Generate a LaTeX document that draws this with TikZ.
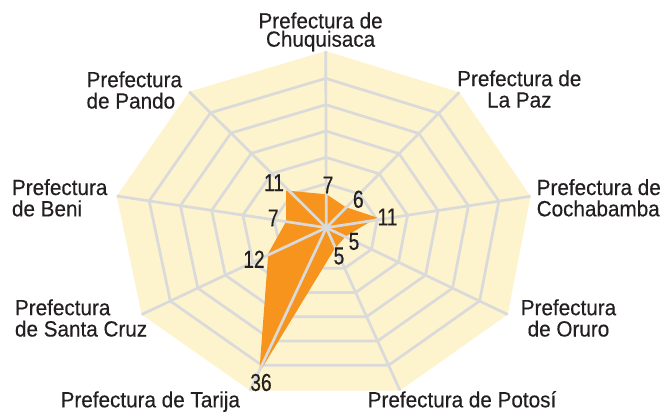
\documentclass[tikz,border=0pt]{standalone}
\usepackage{fontspec}
\setmainfont{Liberation Sans}
\newfontfamily\labfont{Liberation Sans}[FakeStretch=0.94,FakeBold=0.35]
\newfontfamily\numfont{Liberation Sans}[FakeStretch=0.78,FakeBold=0.35]
\usetikzlibrary{calc}
\definecolor{chartbg}{RGB}{253,243,205}
\definecolor{gridgray}{RGB}{218,218,218}
\definecolor{dataorange}{RGB}{247,148,30}
\definecolor{inktext}{RGB}{35,31,32}
\tikzset{
  bgpoly/.style={fill=chartbg},
  ring/.style={draw=gridgray, line width=2.7pt, line join=miter},
  spoke/.style={draw=gridgray, line width=2.7pt},
  datapoly/.style={fill=dataorange},
  axislabel/.style={inner sep=0pt, text=inktext, font=\labfont\fontsize{22}{21.3}\selectfont},
  vallabel/.style={inner sep=0pt, text=inktext, font=\numfont\fontsize{24.5}{24.5}\selectfont},
}
\begin{document}
\begin{tikzpicture}[x=1pt,y=-1pt]
\useasboundingbox (0,0) rectangle (661,412);
% centre and outer vertices
\coordinate (C) at (326.3,227.7);
\coordinate (V0) at (325.7,51);
\coordinate (V1) at (459.3,92.3);
\coordinate (V2) at (530.5,196.3);
\coordinate (V3) at (507.7,314.5);
\coordinate (V4) at (400,390.5);
\coordinate (V5) at (250,390.5);
\coordinate (V6) at (141.7,314.5);
\coordinate (V7) at (116.7,196);
\coordinate (V8) at (189.3,91.7);
% background
\fill[bgpoly] (V0) -- (V1) -- (V2) -- (V3) -- (V4) -- (V5) -- (V6) -- (V7) -- (V8) -- cycle;
% rings
\foreach \f in {0.249,0.398,0.547,0.696,0.845}
  \draw[ring] ($(C)!\f!(V0)$) -- ($(C)!\f!(V1)$) -- ($(C)!\f!(V2)$) -- ($(C)!\f!(V3)$)
     -- ($(C)!\f!(V4)$) -- ($(C)!\f!(V5)$) -- ($(C)!\f!(V6)$) -- ($(C)!\f!(V7)$)
     -- ($(C)!\f!(V8)$) -- cycle;
% data
\coordinate (D0) at (326.5,194.3);
\coordinate (D1) at (345.5,207);
\coordinate (D2) at (377,217.5);
\coordinate (D3) at (345.3,236.7);
\coordinate (D4) at (334.5,249);
\coordinate (D5) at (259.3,372.5);
\coordinate (D6) at (268.3,253.3);
\coordinate (D7) at (286,221.7);
\coordinate (D8) at (286,190.5);
\fill[datapoly] (D0) -- (D1) -- (D2) -- (D3) -- (D4) -- (D5) -- (D6) -- (D7) -- (D8) -- cycle;
% spokes
\foreach \i in {0,...,8}
  \draw[spoke] (C) -- (V\i);
% axis labels (anchor at the baseline of the last line)
\node[axislabel, anchor=base, align=center] (lChu) at (320.6,46.7) {Prefectura de\\[-3pt]Chuquisaca};
\node[axislabel, anchor=base, align=center] (lLaPaz) at (519.3,107.5) {Prefectura de\\La Paz};
\node[axislabel, anchor=base west, align=left] (lCocha) at (536.5,216.3) {Prefectura de\\Cochabamba};
\node[axislabel, anchor=base, align=center] (lOruro) at (568.5,336.5) {Prefectura\\de Oruro};
\node[axislabel, anchor=base] (lPotosi) at (462,407.3) {Prefectura de Potosí};
\node[axislabel, anchor=base] (lTarija) at (150.3,407.3) {Prefectura de Tarija};
\node[axislabel, anchor=base west, align=left] (lSanta) at (14.8,336.5) {Prefectura\\de Santa Cruz};
\node[axislabel, anchor=base west, align=left] (lBeni) at (11.8,216.3) {Prefectura\\de Beni};
\node[axislabel, anchor=base west, align=left] (lPando) at (86.4,108.5) {Prefectura\\de Pando};
% value labels
\node[vallabel] (n0) at (328,185) {7};
\node[vallabel] (n1) at (358.3,199.3) {6};
\node[vallabel] (n2) at (387.5,217) {11};
\node[vallabel] (n3) at (354,241.5) {5};
\node[vallabel] (n4) at (339,256) {5};
\node[vallabel] (n5) at (261,382.5) {36};
\node[vallabel] (n6) at (254,259.2) {12};
\node[vallabel] (n7) at (273.3,218) {7};
\node[vallabel] (n8) at (274,182.7) {11};
\end{tikzpicture}
\end{document}
